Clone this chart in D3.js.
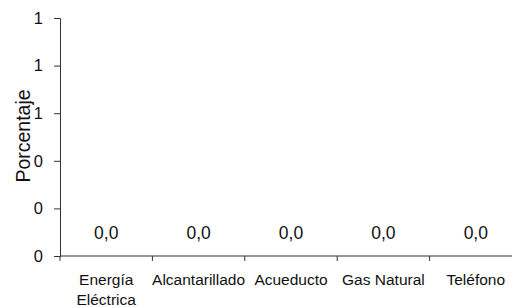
<!DOCTYPE html>
<html>
<head>
<meta charset="utf-8">
<script src="https://cdn.jsdelivr.net/npm/d3@7"></script>
<style>
  body { margin: 0; background: #fff; }
  text { font-family: "Liberation Sans", Arial, sans-serif; fill: #111; }
</style>
</head>
<body>
<div id="chart"></div>
<script>
// Categories (two-line labels split on "\n")
const categories = ["Energía\nEléctrica", "Alcantarillado", "Acueducto", "Gas Natural", "Teléfono"];
// Series values (percent)
const values = [0, 0, 0, 0, 0];
// Y tick values
const yTicks = [0, 0.2, 0.4, 0.6, 0.8, 1];

const width = 512, height = 307;
const margin = { top: 18, left: 60 };
const innerWidth = 462;
const innerHeight = 238;

const svg = d3.select("#chart").append("svg")
    .attr("width", width)
    .attr("height", height);

const g = svg.append("g")
    .attr("transform", `translate(${margin.left},${margin.top})`);

const x = d3.scaleBand().domain(categories).range([0, innerWidth]).padding(0);
const y = d3.scaleLinear().domain([0, 1]).range([innerHeight, 0]);

const locale = d3.formatLocale({ decimal: ",", thousands: ".", grouping: [3], currency: ["", ""] });
const fmtVal = locale.format(".1f");

// Y axis
const yAxis = g.append("g")
    .call(d3.axisLeft(y).tickValues(yTicks).tickFormat(d3.format(".0f")).tickSize(6).tickPadding(11));
yAxis.select(".domain").attr("stroke", "#333");
yAxis.selectAll(".tick line").attr("stroke", "#333");
yAxis.selectAll(".tick text").style("font-size", "16.5px").attr("fill", "#111");

// X axis: ticks at band boundaries
const xAxis = g.append("g").attr("transform", `translate(0,${innerHeight})`);
xAxis.append("line").attr("x1", 0).attr("x2", innerWidth).attr("stroke", "#333");
xAxis.selectAll(".bt").data(categories).join("line")
    .attr("class", "bt")
    .attr("x1", d => x(d)).attr("x2", d => x(d))
    .attr("y1", 0).attr("y2", 5)
    .attr("stroke", "#333");

xAxis.selectAll(".cat").data(categories).join("text")
    .attr("class", "cat")
    .attr("text-anchor", "middle")
    .attr("x", d => x(d) + x.bandwidth() / 2)
    .attr("y", 29)
    .style("font-size", "15.5px")
    .each(function(d) {
        d3.select(this).selectAll("tspan").data(d.split("\n")).join("tspan")
            .attr("x", x(d) + x.bandwidth() / 2)
            .attr("dy", (t, i) => i === 0 ? 0 : 20)
            .text(t => t);
    });

// Bars (zero height)
g.selectAll("rect.bar").data(values).join("rect")
    .attr("class", "bar")
    .attr("x", (d, i) => x(categories[i]) + x.bandwidth() * 0.25)
    .attr("width", x.bandwidth() * 0.5)
    .attr("y", d => y(d))
    .attr("height", d => innerHeight - y(d))
    .attr("fill", "#999");

// Value labels
g.selectAll("text.val").data(values).join("text")
    .attr("class", "val")
    .attr("text-anchor", "middle")
    .attr("x", (d, i) => x(categories[i]) + x.bandwidth() / 2)
    .attr("y", d => y(d) - 17)
    .style("font-size", "17.5px")
    .text(d => fmtVal(d));

// Y axis label
svg.append("text")
    .attr("text-anchor", "middle")
    .attr("transform", `translate(30,136) rotate(-90)`)
    .style("font-size", "19.5px")
    .text("Porcentaje");
</script>
</body>
</html>
